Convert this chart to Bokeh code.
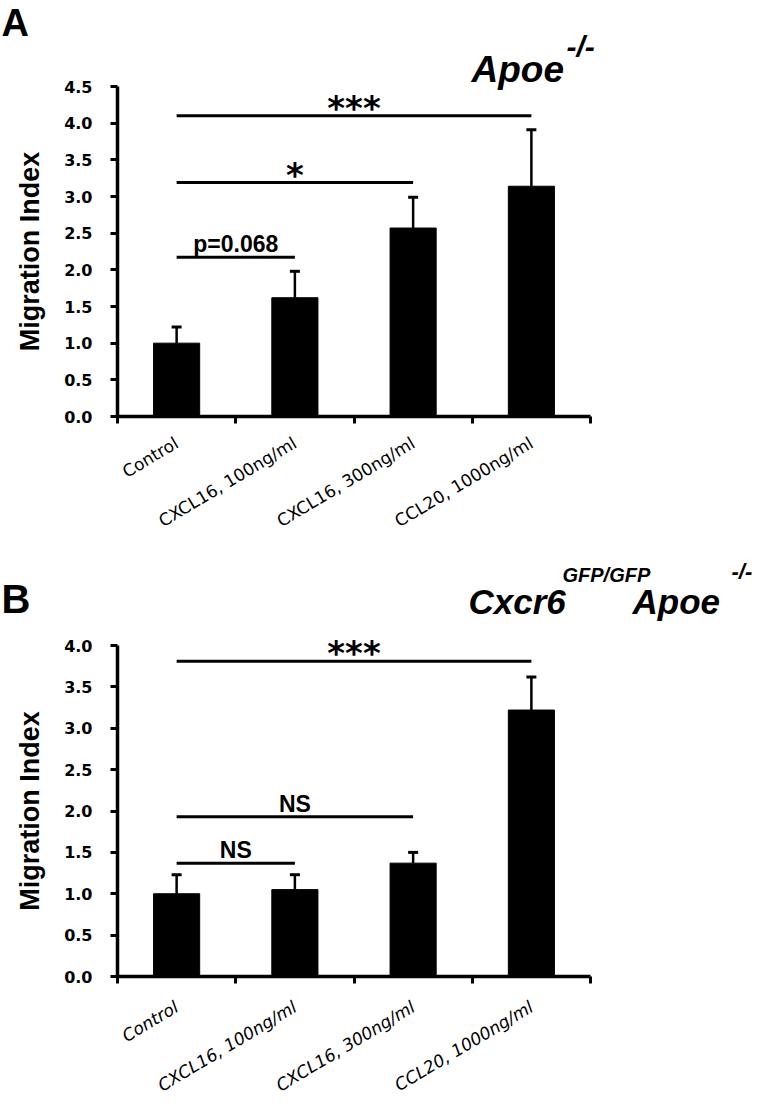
from bokeh.plotting import figure
from bokeh.models import (Range1d, FixedTicker, LinearAxis, Whisker, TeeHead,
                          ColumnDataSource, Label, PrintfTickFormatter)
from bokeh.layouts import column
from bokeh.embed import file_html
from bokeh.resources import INLINE
from bokeh.core.properties import value

# ---------------- data ----------------
categories = ["Control", "CXCL16, 100ng/ml", "CXCL16, 300ng/ml", "CCL20, 1000ng/ml"]

a_values = [1.00, 1.62, 2.57, 3.14]
a_errors = [0.22, 0.36, 0.42, 0.77]
a_ticks = [0.0, 0.5, 1.0, 1.5, 2.0, 2.5, 3.0, 3.5, 4.0, 4.5]
a_sig_pairs = [(0, 1), (0, 2), (0, 3)]
a_sig_y = [2.17, 3.19, 4.10]
a_sig_text = ["p=0.068", "*", "***"]

b_values = [1.00, 1.05, 1.37, 3.22]
b_errors = [0.23, 0.18, 0.13, 0.40]
b_ticks = [0.0, 0.5, 1.0, 1.5, 2.0, 2.5, 3.0, 3.5, 4.0]
b_sig_pairs = [(0, 1), (0, 2), (0, 3)]
b_sig_y = [1.37, 1.93, 3.81]
b_sig_text = ["NS", "NS", "***"]

# ---------------- layout constants (pixels) ----------------
W = 760
AXIS_X = 117            # canvas x of the y axis
PX_PER_CAT = 118.25
ZERO_Y = 416            # canvas y of value 0 in each panel
A_H, B_H = 560, 544
A_PX_PER_UNIT = 73.33
B_PX_PER_UNIT = 82.75
LABEL_FONT = "Liberation Sans"


def make_panel(height, px_per_unit, values, errors, ticks, sig_pairs, sig_y, sig_text,
               cat_style, cat_standoff):
    p = figure(width=W, height=height,
               x_range=Range1d(-AXIS_X / PX_PER_CAT, (W - AXIS_X) / PX_PER_CAT),
               y_range=Range1d(-(height - ZERO_Y) / px_per_unit, ZERO_Y / px_per_unit),
               output_backend="svg", toolbar_location=None,
               min_border=0, x_axis_type=None, y_axis_type=None)
    p.outline_line_color = None
    p.background_fill_color = "white"
    p.border_fill_color = "white"

    n = len(categories)
    centers = [i + 0.5 for i in range(n)]
    edges = [float(i) for i in range(n + 1)]

    # y axis
    yax = LinearAxis(ticker=FixedTicker(ticks=ticks, minor_ticks=[]),
                     formatter=PrintfTickFormatter(format="%.1f"),
                     bounds=(0, ticks[-1]), axis_label="Migration Index", fixed_location=0)
    yax.axis_line_width = 3.5
    yax.major_tick_line_width = 3
    yax.major_tick_out = 7
    yax.major_tick_in = 0
    yax.minor_tick_line_color = None
    yax.major_label_text_font = "DejaVu Sans"
    yax.major_label_text_font_style = "bold"
    yax.major_label_text_font_size = "16px"
    yax.major_label_text_color = "black"
    yax.major_label_standoff = 18
    yax.axis_label_text_font = LABEL_FONT
    yax.axis_label_text_font_style = "bold"
    yax.axis_label_text_font_size = "27px"
    yax.axis_label_text_color = "black"
    yax.axis_label_standoff = 16
    p.add_layout(yax, "left")

    # x axis: labels at category centres, tick marks between categories
    xax = LinearAxis(ticker=FixedTicker(ticks=centers, minor_ticks=edges),
                     bounds=(0, n), fixed_location=0,
                     major_label_overrides={c: cat for c, cat in zip(centers, categories)})
    xax.axis_line_width = 3.5
    xax.major_tick_out = 0
    xax.major_tick_in = 0
    xax.minor_tick_out = 7
    xax.minor_tick_in = 0
    xax.minor_tick_line_width = 3
    xax.major_label_orientation = 0.54
    xax.major_label_standoff = cat_standoff
    xax.major_label_text_font = "DejaVu Sans"
    xax.major_label_text_font_style = cat_style
    xax.major_label_text_font_size = "17px"
    xax.major_label_text_color = "black"
    p.add_layout(xax, "below")

    src = ColumnDataSource(dict(x=centers, top=values,
                                upper=[v + e for v, e in zip(values, errors)]))
    p.vbar(x="x", top="top", width=0.39, source=src, fill_color="black", line_color="black")
    wh = Whisker(source=src, base="x", lower="top", upper="upper", dimension="height",
                 line_width=2.5, line_color="black",
                 upper_head=TeeHead(size=10, line_width=3, line_color="black"),
                 lower_head=None)
    p.add_layout(wh)

    # significance bars
    x0 = [centers[i] for i, j in sig_pairs]
    x1 = [centers[j] for i, j in sig_pairs]
    p.segment(x0=x0, x1=x1, y0=sig_y, y1=sig_y, line_width=3, line_color="black")
    xm = [(a + b) / 2 for a, b in zip(x0, x1)]
    star_idx = [k for k, t in enumerate(sig_text) if set(t) == {"*"}]
    word_idx = [k for k in range(len(sig_text)) if k not in star_idx]
    p.text(x=[xm[k] for k in word_idx], y=[sig_y[k] for k in word_idx],
           text=[sig_text[k] for k in word_idx], text_align="center",
           text_baseline="bottom",
           text_font=value(LABEL_FONT), text_font_style="bold", text_font_size="23px",
           text_color="black")
    p.text(x=[xm[k] for k in star_idx], y=[sig_y[k] for k in star_idx],
           text=[sig_text[k] for k in star_idx], text_align="center",
           text_baseline="middle", y_offset=-8,
           text_font=value("DejaVu Sans"), text_font_style="bold", text_font_size="34px",
           text_color="black")
    return p


def header(p, px_per_unit, text, px_x, px_y, size, style="bold italic"):
    # px_x, px_y: canvas pixel position of the text baseline start
    fs = float(size.replace("px", ""))
    x = (px_x - AXIS_X) / PX_PER_CAT
    y = (ZERO_Y - (px_y - 0.35 * fs)) / px_per_unit
    p.add_layout(Label(x=x, y=y, text=text, text_font=LABEL_FONT, text_font_style=style,
                       text_font_size=size, text_color="black", text_baseline="alphabetic",
                       text_align="left"))


pa = make_panel(A_H, A_PX_PER_UNIT, a_values, a_errors, a_ticks, a_sig_pairs, a_sig_y,
                a_sig_text, "normal", 18)
header(pa, A_PX_PER_UNIT, "A", 1, 36, "38px", "bold")
header(pa, A_PX_PER_UNIT, "Apoe", 471, 82, "37px")
header(pa, A_PX_PER_UNIT, "-/-", 566, 56, "30px")

pb = make_panel(B_H, B_PX_PER_UNIT, b_values, b_errors, b_ticks, b_sig_pairs, b_sig_y,
                b_sig_text, "italic", 22)
B_TOP = A_H
for text, x, y, size, style in [("B", 1, 612, "40px", "bold"),
                                ("Cxcr6", 468, 613, "35px", "bold italic"),
                                ("GFP/GFP", 562, 581, "20px", "bold italic"),
                                ("Apoe", 632, 613, "35px", "bold italic"),
                                ("-/-", 731, 579, "22px", "bold italic")]:
    header(pb, B_PX_PER_UNIT, text, x, y - B_TOP, size, style)

layout = column(pa, pb, spacing=0)
open("out.html", "w").write(file_html(layout, INLINE))
